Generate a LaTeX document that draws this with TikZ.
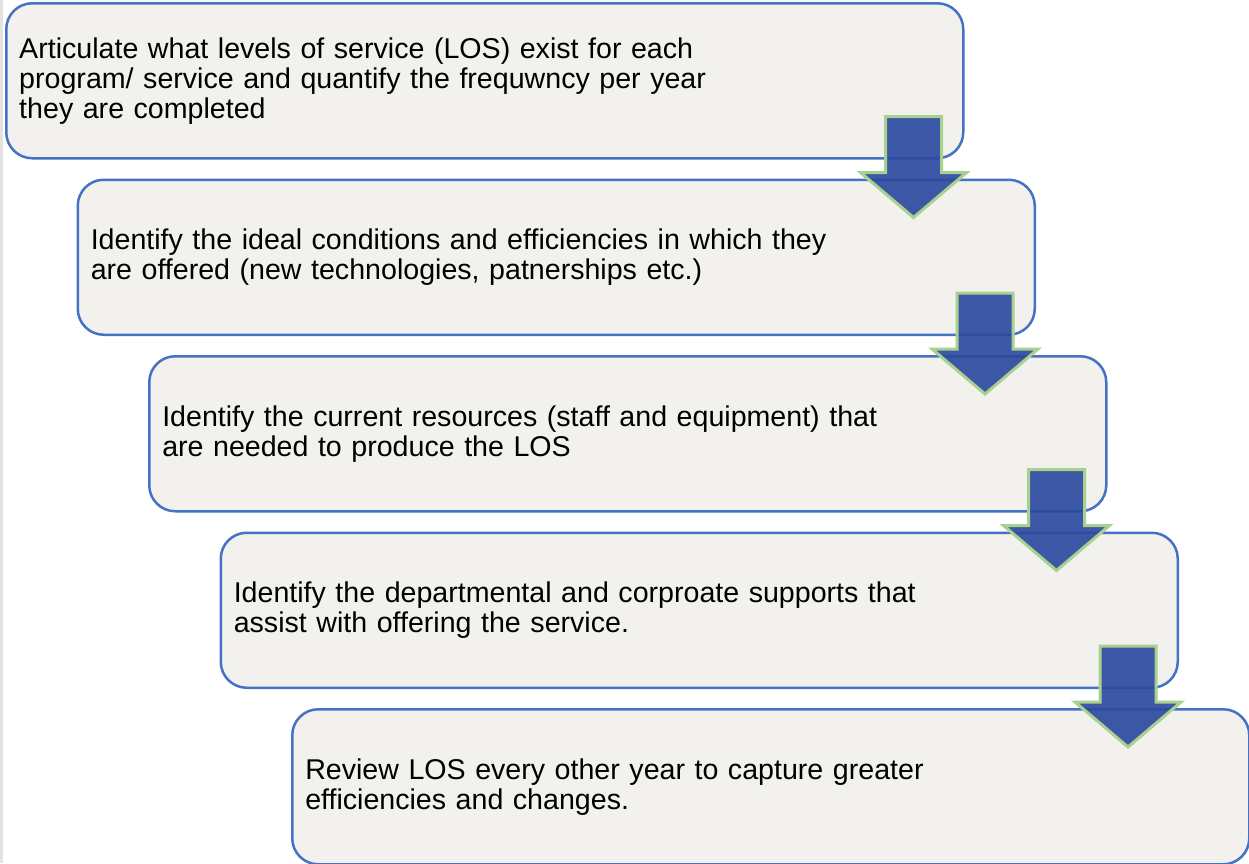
\documentclass[tikz,border=0pt]{standalone}
\usepackage{fontspec}
\setmainfont{Liberation Sans}
\definecolor{boxfill}{HTML}{F2F1EE}
\definecolor{boxline}{HTML}{4472C4}
\definecolor{arrowblue}{HTML}{2C4A9F}
\definecolor{arrowline}{HTML}{A9D18E}
\definecolor{edgegray}{HTML}{E2E2E2}

\begin{document}
\begin{tikzpicture}[x=1pt,y=-1pt]
              \tikzstyle{stepbox}=[draw=boxline,line width=2.5pt,fill=boxfill,rounded corners=26pt,
                  anchor=north west,minimum width=957pt,minimum height=155pt,
                  inner xsep=13pt,text width=931pt,align=left,
                  font=\fontsize{28.6}{30}\selectfont];
              \tikzstyle{blockarrow}=[draw=arrowline,line width=3pt,fill=arrowblue,fill opacity=0.92,line join=miter];
                \useasboundingbox (0,0) rectangle (1249,863);
                \fill[white] (0,0) rectangle (1249,863);
                \draw[edgegray,line width=3pt] (1.5,0) -- (1.5,863);

                \path (5,2)       node[stepbox] (box1) {Articulate what levels of service (LOS) exist for each\\program/ service and quantify the frequwncy per year\\they are completed};
                \path (76.5,178.5)  node[stepbox] (box2) {Identify the ideal conditions and efficiencies in which they\\are offered (new technologies, patnerships etc.)};
                \path (148,355)   node[stepbox] (box3) {Identify the current resources (staff and equipment) that\\are needed to produce the LOS};
                \path (219.5,531.5) node[stepbox] (box4) {Identify the departmental and corproate supports that\\assist with offering the service.};
                \path (291,708)   node[stepbox] (box5) {Review LOS every other year to capture greater\\efficiencies and changes.};

                \foreach \i in {1,...,4}
                  \draw[blockarrow] ([xshift=-51pt]box\i.south east) ++(-28pt,43pt) -- ++(56pt,0) -- ++(0,-56pt)
                        -- ++(25pt,0) -- ++(-53pt,-45pt) -- ++(-53pt,45pt) -- ++(25pt,0) -- cycle;
            \end{tikzpicture}
\end{document}
